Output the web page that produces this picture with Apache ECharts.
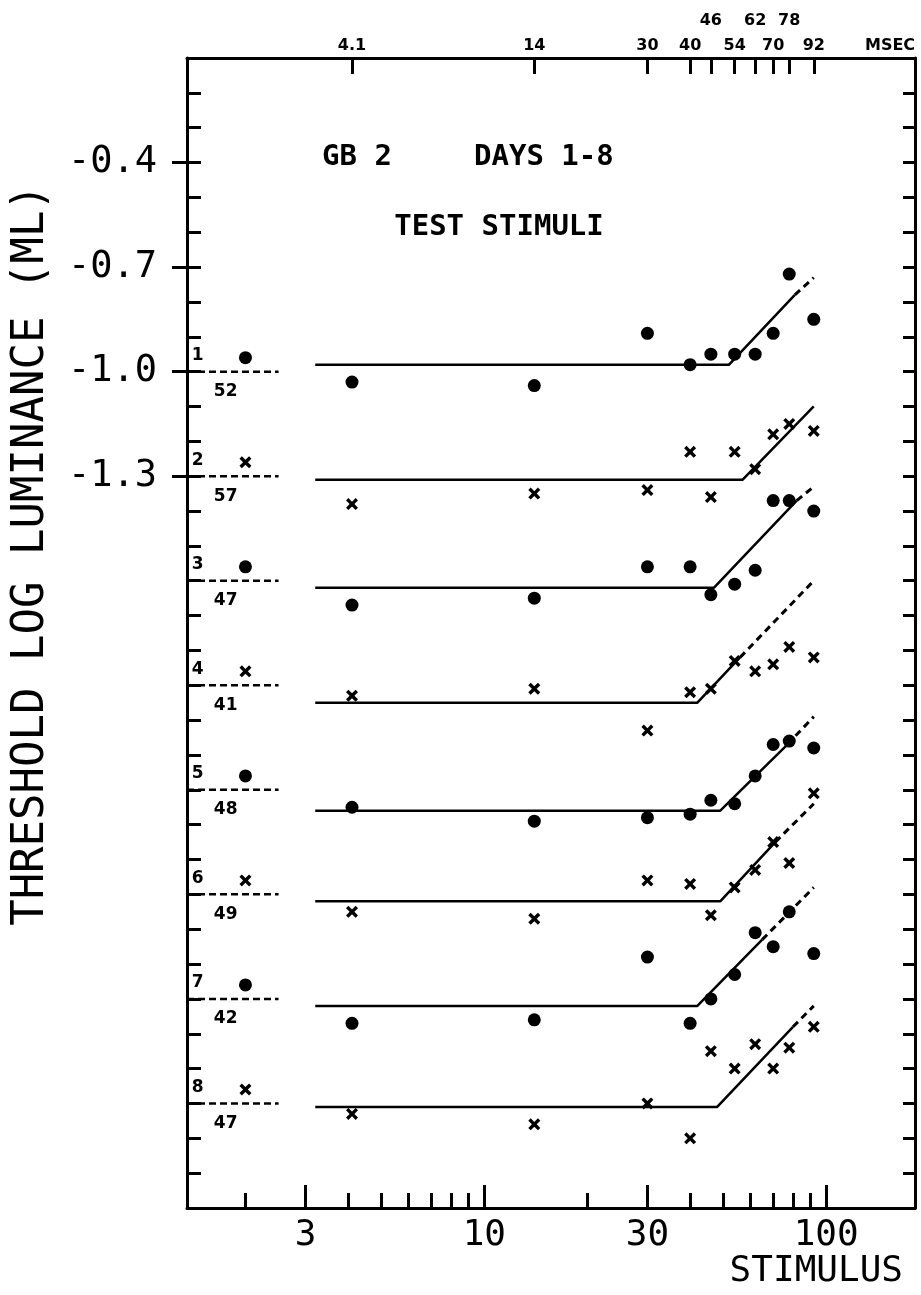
<!DOCTYPE html>
<html><head><meta charset="utf-8">
<script src="https://cdn.jsdelivr.net/npm/echarts@6/dist/echarts.min.js"></script>
<style>html,body{margin:0;padding:0;background:#fff}#c{width:921px;height:1295px}</style>
</head><body><div id="c"></div><script>
// ---- data ----
const stimulusMs = [4.1, 14, 30, 40, 46, 54, 62, 70, 78, 92];
const topTickLabels = ['4.1', '14', '30', '40', '46', '54', '62', '70', '78', '92'];
const upperRowLabels = ['46', '62', '78'];
const bottomMajor = [3, 10, 30, 100];
const bottomMinor = [2, 4, 5, 6, 7, 8, 9, 20, 40, 50, 60, 70, 80, 90];
const yLabelValues = [-1.3, -1.0, -0.7, -0.4];
const curveIds = ['1', '2', '3', '4', '5', '6', '7', '8'];
const subjectValues = ['52', '57', '47', '41', '48', '49', '42', '47'];
const baselines = [-1.0, -1.3, -1.6, -1.9, -2.2, -2.5, -2.8, -3.1];
const refStimulus = 2;
const refValues = [-0.96, -1.26, -1.56, -1.86, -2.16, -2.46, -2.76, -3.06];
const refLineEnd = 2.5;

const threshold1 = [-1.03, -1.04, -0.89, -0.98, -0.95, -0.95, -0.95, -0.89, -0.72, -0.85];
const threshold2 = [-1.38, -1.35, -1.34, -1.23, -1.36, -1.23, -1.28, -1.18, -1.15, -1.17];
const threshold3 = [-1.67, -1.65, -1.56, -1.56, -1.64, -1.61, -1.57, -1.37, -1.37, -1.40];
const threshold4 = [-1.93, -1.91, -2.03, -1.92, -1.91, -1.83, -1.86, -1.84, -1.79, -1.82];
const threshold5 = [-2.25, -2.29, -2.28, -2.27, -2.23, -2.24, -2.16, -2.07, -2.06, -2.08];
const threshold6 = [-2.55, -2.57, -2.46, -2.47, -2.56, -2.48, -2.43, -2.35, -2.41, -2.21];
const threshold7 = [-2.87, -2.86, -2.68, -2.87, -2.80, -2.73, -2.61, -2.65, -2.55, -2.67];
const threshold8 = [-3.13, -3.16, -3.10, -3.20, -2.95, -3.00, -2.93, -3.00, -2.94, -2.88];

const fitStart = 3.2;
const fitLevel = [-0.98, -1.31, -1.62, -1.95, -2.26, -2.52, -2.82, -3.11];
const fitBreak = [52, 57, 47, 42, 49, 49, 42, 48];
const fitDashStim = [81, null, 82, 56, 77, 71, 65, 80];
const fitDashValue = [-0.78, null, -1.37, -1.82, -2.07, -2.35, -2.63, -2.88];
const fitEndStim = [92, 92, 92, 92, 92, 92, 92, 92];
const fitEndValue = [-0.73, -1.10, -1.33, -1.60, -1.99, -2.24, -2.48, -2.82];

// ---- layout constants ----
const L = Math.log10;
const X_MIN = 0.13, X_MAX = 2.26;
const Y_MIN = -3.4, Y_MAX = -0.1;
const MSEC_POS = 2.187;
const ID_LABEL_X = 1.45, SUBJ_LABEL_X = 1.75;
const XPATH = 'path://M0,2 L2,0 L5,3 L8,0 L10,2 L7,5 L10,8 L8,10 L5,7 L2,10 L0,8 L3,5 Z';
const MONO = '"DejaVu Sans Mono", monospace';
const SANS = '"DejaVu Sans", sans-serif';
const thresholds = [threshold1, threshold2, threshold3, threshold4, threshold5, threshold6, threshold7, threshold8];

const series = [];
thresholds.forEach((vals, k) => {
  const dot = k % 2 === 0;
  series.push({
    type: 'scatter', symbol: dot ? 'circle' : XPATH, symbolSize: dot ? 13 : 12,
    itemStyle: { color: '#000', opacity: 1 }, z: 5,
    data: [[L(refStimulus), refValues[k]]].concat(stimulusMs.map((t, i) => [L(t), vals[i]]))
  });
  const solid = [[L(fitStart), fitLevel[k]], [L(fitBreak[k]), fitLevel[k]]];
  if (fitDashStim[k] != null) solid.push([L(fitDashStim[k]), fitDashValue[k]]);
  else solid.push([L(fitEndStim[k]), fitEndValue[k]]);
  series.push({ type: 'line', data: solid, symbol: 'none', lineStyle: { color: '#000', width: 2.5 } });
  if (fitDashStim[k] != null) {
    series.push({ type: 'line', symbol: 'none', data: [[L(fitDashStim[k]), fitDashValue[k]], [L(fitEndStim[k]), fitEndValue[k]]],
      lineStyle: { color: '#000', width: 3, type: [7, 5] } });
  }
  series.push({ type: 'line', symbol: 'none', data: [[X_MIN, baselines[k]], [L(refLineEnd), baselines[k]]],
    lineStyle: { color: '#000', width: 2.5, type: [7, 4] } });
});
// curve number and subject labels
series.push({
  type: 'scatter', symbolSize: 0, z: 6, itemStyle: { opacity: 1 },
  data: baselines.map((b, k) => ({ value: [L(ID_LABEL_X), b], label: { formatter: curveIds[k], offset: [0, -16] } }))
    .concat(baselines.map((b, k) => ({ value: [L(SUBJ_LABEL_X), b], label: { formatter: subjectValues[k], offset: [0, 20] } }))),
  label: { show: true, position: 'inside', color: '#000', opacity: 1, fontFamily: SANS, fontWeight: 'bold', fontSize: 17 }
});

const topFmt = v => {
  if (Math.abs(v - MSEC_POS) < 1e-6) return 'MSEC';
  const i = stimulusMs.findIndex(t => Math.abs(L(t) - v) < 1e-6);
  if (i < 0) return '';
  const s = topTickLabels[i];
  return upperRowLabels.includes(s) ? s + '\n ' : s;
};

const option = {
  animation: false,
  backgroundColor: '#fff',
  grid: { left: 187, right: 6, top: 58, bottom: 87 },
  xAxis: [
    { type: 'value', position: 'bottom', min: X_MIN, max: X_MAX,
      axisLine: { show: true, lineStyle: { color: '#000', width: 3 } },
      axisTick: { show: true, inside: true, length: 23, customValues: bottomMajor.map(L), lineStyle: { color: '#000', width: 3 } },
      axisLabel: { show: true, customValues: bottomMajor.map(L), formatter: v => String(Math.round(Math.pow(10, v))),
        fontFamily: MONO, fontSize: 36, color: '#000', margin: 10 },
      splitLine: { show: false } },
    { type: 'value', position: 'top', min: X_MIN, max: X_MAX,
      axisLine: { show: true, lineStyle: { color: '#000', width: 3 } },
      axisTick: { show: true, inside: true, length: 16, customValues: stimulusMs.map(L), lineStyle: { color: '#000', width: 3 } },
      axisLabel: { show: true, customValues: stimulusMs.map(L).concat([MSEC_POS]), formatter: topFmt,
        fontFamily: SANS, fontWeight: 'bold', fontSize: 16, lineHeight: 25, color: '#000', margin: 0 },
      splitLine: { show: false } },
    { type: 'value', position: 'bottom', min: X_MIN, max: X_MAX,
      axisLine: { show: false },
      axisTick: { show: true, inside: true, length: 15, customValues: bottomMinor.map(L), lineStyle: { color: '#000', width: 3 } },
      axisLabel: { show: false }, splitLine: { show: false } }
  ],
  yAxis: [
    { type: 'value', position: 'left', min: Y_MIN, max: Y_MAX, interval: 0.1,
      axisLine: { show: true, lineStyle: { color: '#000', width: 3 } },
      axisTick: { show: true, inside: true, length: 14, lineStyle: { color: '#000', width: 3 } },
      axisLabel: { show: false }, splitLine: { show: false } },
    { type: 'value', position: 'left', min: Y_MIN, max: Y_MAX,
      axisLine: { show: false },
      axisTick: { show: true, inside: false, length: 15, customValues: yLabelValues, lineStyle: { color: '#000', width: 3 } },
      axisLabel: { show: true, customValues: yLabelValues, formatter: v => v.toFixed(1),
        fontFamily: MONO, fontSize: 37, color: '#000', margin: 30 },
      splitLine: { show: false } },
    { type: 'value', position: 'right', min: Y_MIN, max: Y_MAX, interval: 0.1,
      axisLine: { show: true, lineStyle: { color: '#000', width: 3 } },
      axisTick: { show: true, inside: true, length: 12, lineStyle: { color: '#000', width: 3 } },
      axisLabel: { show: false }, splitLine: { show: false } }
  ],
  graphic: [
    { type: 'text', x: 32, y: 555, rotation: Math.PI / 2,
      style: { text: 'THRESHOLD LOG LUMINANCE (ML)', fontFamily: MONO, fontSize: 44, fill: '#000', align: 'center', verticalAlign: 'middle' } },
    { type: 'text', x: 322, y: 157,
      style: { text: 'GB 2', fontFamily: MONO, fontWeight: 'bold', fontSize: 29, fill: '#000', align: 'left', verticalAlign: 'middle' } },
    { type: 'text', x: 474, y: 157,
      style: { text: 'DAYS 1-8', fontFamily: MONO, fontWeight: 'bold', fontSize: 29, fill: '#000', align: 'left', verticalAlign: 'middle' } },
    { type: 'text', x: 499, y: 227,
      style: { text: 'TEST STIMULI', fontFamily: MONO, fontWeight: 'bold', fontSize: 29, fill: '#000', align: 'center', verticalAlign: 'middle' } },
    { type: 'text', x: 903, y: 1272,
      style: { text: 'STIMULUS', fontFamily: MONO, fontSize: 36, fill: '#000', align: 'right', verticalAlign: 'middle' } }
  ],
  series: series.map(s => Object.assign({ xAxisIndex: 0, yAxisIndex: 0 }, s))
};
const chart = echarts.init(document.getElementById('c'), null, { renderer: 'canvas' });
chart.setOption(option);
</script></body></html>
